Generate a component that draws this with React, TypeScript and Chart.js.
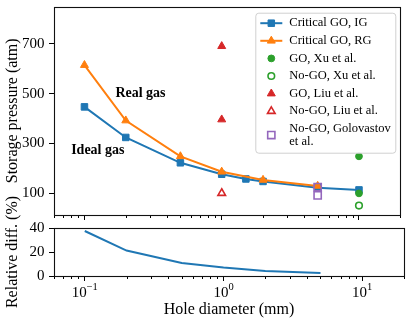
import React, { useEffect, useRef } from 'react';
import { Chart, registerables } from 'chart.js';

Chart.register(...registerables);

const SERIF = "'Liberation Serif', 'Times New Roman', Times, serif";
const BLUE = '#1f77b4';
const ORANGE = '#ff7f0e';
const GREEN = '#2ca02c';
const RED = '#d62728';
const PURPLE = '#9467bd';

// ---------- data ----------
const holeIG = [0.1, 0.2, 0.5, 1, 1.5, 2, 5, 10];
const pressureIG = [447, 324, 222, 176, 157, 147, 122, 113];
const holeRG = [0.1, 0.2, 0.5, 1, 2, 5];
const pressureRG = [615, 392, 248, 186, 153, 129];
const holeGOXu = [10, 10];
const pressureGOXu = [248, 99];
const holeNoGOXu = [10];
const pressureNoGOXu = [50];
const holeGOLiu = [1, 1];
const pressureGOLiu = [691, 396];
const holeNoGOLiu = [1];
const pressureNoGOLiu = [100];
const holeNoGOGolovastov = [5, 5];
const pressureNoGOGolovastov = [124, 91];
const holeDiff = [0.1, 0.2, 0.5, 1, 2, 5];
const relDiff = [37.5, 21.2, 10.9, 7.0, 4.2, 2.5];

const xMajorTicks = [0.1, 1, 10];
const xTickExponents = ['\u22121', '0', '1'];
const xMinorTicks = [0.06, 0.07, 0.08, 0.09, 0.2, 0.3, 0.4, 0.5, 0.6, 0.7, 0.8, 0.9, 2, 3, 4, 5, 6, 7, 8, 9, 20];
const yTicksTop = [100, 300, 500, 700];
const yTicksBottom = [0, 20, 40];
const annotationTexts = ['Real gas', 'Ideal gas'];
const annotationX = [0.168, 0.08];
const annotationY = [501, 270];

const pts = (xs: number[], ys: number[]) => xs.map((x, i) => ({ x, y: ys[i] }));

function markerPath(ctx: CanvasRenderingContext2D, style: string, x: number, y: number, r: number) {
  ctx.beginPath();
  if (style === 'circle') {
    ctx.arc(x, y, r, 0, Math.PI * 2);
  } else if (style === 'rect') {
    const s = r * Math.SQRT1_2;
    ctx.rect(x - s, y - s, 2 * s, 2 * s);
  } else if (style === 'triangle') {
    let a = 0;
    ctx.moveTo(x + Math.sin(a) * r, y - Math.cos(a) * r);
    a += (2 * Math.PI) / 3;
    ctx.lineTo(x + Math.sin(a) * r, y - Math.cos(a) * r);
    a += (2 * Math.PI) / 3;
    ctx.lineTo(x + Math.sin(a) * r, y - Math.cos(a) * r);
  }
  ctx.closePath();
}

const frameTicksPlugin = {
  id: 'frameTicks',
  afterDraw(chart: any) {
    const { ctx, chartArea: a } = chart;
    const xs = chart.scales.x;
    ctx.save();
    ctx.strokeStyle = '#000';
    ctx.lineWidth = 1;
    ctx.beginPath();
    for (const v of xMinorTicks) {
      const px = Math.round(xs.getPixelForValue(v)) + 0.5;
      ctx.moveTo(px, a.bottom);
      ctx.lineTo(px, a.bottom + 3);
    }
    ctx.stroke();
    ctx.lineWidth = 1.1;
    ctx.strokeStyle = '#111';
    ctx.strokeRect(Math.round(a.left) + 0.5, Math.round(a.top) + 0.5, Math.round(a.right - a.left), Math.round(a.bottom - a.top));
    ctx.restore();
  },
};

const xLabelPlugin = {
  id: 'xLabels',
  afterDraw(chart: any) {
    const { ctx, chartArea: a } = chart;
    const xs = chart.scales.x;
    ctx.save();
    ctx.fillStyle = '#000';
    ctx.textBaseline = 'alphabetic';
    ctx.textAlign = 'left';
    xMajorTicks.forEach((v, i) => {
      const px = xs.getPixelForValue(v);
      ctx.font = `15px ${SERIF}`;
      const w1 = ctx.measureText('10').width;
      ctx.font = `10.5px ${SERIF}`;
      const w2 = ctx.measureText(xTickExponents[i]).width;
      const x0 = px - (w1 + w2) / 2;
      const base = a.bottom + 20.7;
      ctx.font = `15px ${SERIF}`;
      ctx.fillText('10', x0, base);
      ctx.font = `10.5px ${SERIF}`;
      ctx.fillText(xTickExponents[i], x0 + w1, base - 7);
    });
    ctx.restore();
  },
};

const annotationLegendPlugin = {
  id: 'annoLegend',
  afterDraw(chart: any) {
    const { ctx, chartArea: a } = chart;
    const xs = chart.scales.x;
    const ys = chart.scales.y;
    ctx.save();
    // annotations
    ctx.fillStyle = '#000';
    ctx.font = `bold 14px ${SERIF}`;
    ctx.textAlign = 'left';
    ctx.textBaseline = 'middle';
    annotationTexts.forEach((t, i) => {
      ctx.fillText(t, xs.getPixelForValue(annotationX[i]), ys.getPixelForValue(annotationY[i]));
    });
    // legend
    const bx = a.right - 145;
    const by = a.top + 6;
    const bw = 140;
    const bh = 140;
    ctx.beginPath();
    (ctx as any).roundRect(bx + 0.5, by + 0.5, bw, bh, 3);
    ctx.fillStyle = 'rgba(255,255,255,0.8)';
    ctx.fill();
    ctx.strokeStyle = '#d0d0d0';
    ctx.lineWidth = 1;
    ctx.stroke();

    const rowH = 17.6;
    const lineGap = 12.5;
    let cy = by + 10.5;
    const hx0 = bx + 5;
    const hx1 = bx + 27;
    const hxc = (hx0 + hx1) / 2;
    const tx = bx + 34;
    chart.data.datasets.forEach((ds: any) => {
      const lines = String(ds.label).split('\n');
      const center = cy + ((lines.length - 1) * lineGap) / 2;
      if (ds.showLine) {
        ctx.beginPath();
        ctx.moveTo(hx0, center);
        ctx.lineTo(hx1, center);
        ctx.strokeStyle = ds.borderColor;
        ctx.lineWidth = ds.borderWidth;
        ctx.stroke();
      }
      markerPath(ctx, ds.pointStyle, hxc, center, ds.pointRadius);
      if (ds.backgroundColor && ds.backgroundColor !== 'transparent') {
        ctx.fillStyle = ds.backgroundColor;
        ctx.fill();
      }
      ctx.strokeStyle = ds.pointBorderColor || ds.borderColor;
      ctx.lineWidth = ds.pointBorderWidth;
      ctx.stroke();
      ctx.fillStyle = '#000';
      ctx.font = `12.5px ${SERIF}`;
      ctx.textAlign = 'left';
      ctx.textBaseline = 'middle';
      lines.forEach((ln, k) => ctx.fillText(ln, tx, cy + k * lineGap));
      cy += rowH + (lines.length - 1) * lineGap + (lines.length > 1 ? 0.5 : 0);
    });
    ctx.restore();
  },
};

function xScale(height: number, title?: string) {
  return {
    type: 'logarithmic',
    min: 0.06,
    max: 20,
    bounds: 'data',
    afterBuildTicks: (s: any) => {
      s.ticks = xMajorTicks.map((v) => ({ value: v }));
    },
    afterFit: (s: any) => {
      s.height = height;
      s.paddingLeft = 0;
      s.paddingRight = 0;
    },
    ticks: { display: false },
    grid: { display: true, drawOnChartArea: false, drawTicks: true, tickLength: 5, tickColor: '#000', tickWidth: 1 },
    border: { display: false },
    title: title
      ? { display: true, text: title, color: '#000', font: { family: SERIF, size: 16 }, padding: { top: 0, bottom: 2 } }
      : { display: false },
  };
}

function yScale(min: number, max: number, ticks: number[], title: string) {
  return {
    type: 'linear',
    min,
    max,
    bounds: 'data',
    afterBuildTicks: (s: any) => {
      s.ticks = ticks.map((v) => ({ value: v }));
    },
    afterFit: (s: any) => {
      s.width = 54;
      s.paddingTop = 0;
      s.paddingBottom = 0;
    },
    ticks: { display: true, autoSkip: false, color: '#000', padding: 4.5, font: { family: SERIF, size: 15 } },
    grid: { display: true, drawOnChartArea: false, drawTicks: true, tickLength: 5, tickColor: '#000', tickWidth: 1 },
    border: { display: false },
    title: { display: true, text: title, color: '#000', font: { family: SERIF, size: 16 }, padding: { top: 3, bottom: 0 } },
  };
}

export default function App() {
  const topRef = useRef<HTMLCanvasElement>(null);
  const botRef = useRef<HTMLCanvasElement>(null);

  useEffect(() => {
    const top = new Chart(topRef.current as HTMLCanvasElement, {
      type: 'scatter',
      data: {
        datasets: [
          {
            label: 'Critical GO, IG', data: pts(holeIG, pressureIG), showLine: true,
            borderColor: BLUE, backgroundColor: BLUE, borderWidth: 2, tension: 0,
            pointStyle: 'rect', pointRadius: 4.6, pointBorderWidth: 1, order: 7,
          },
          {
            label: 'Critical GO, RG', data: pts(holeRG, pressureRG), showLine: true,
            borderColor: ORANGE, backgroundColor: ORANGE, borderWidth: 2, tension: 0,
            pointStyle: 'triangle', pointRadius: 4.6, pointBorderWidth: 1, order: 6,
          },
          {
            label: 'GO, Xu et al.', data: pts(holeGOXu, pressureGOXu), showLine: false,
            borderColor: GREEN, backgroundColor: GREEN, borderWidth: 1,
            pointStyle: 'circle', pointRadius: 3.4, pointBorderWidth: 1, order: 5,
          },
          {
            label: 'No-GO, Xu et al.', data: pts(holeNoGOXu, pressureNoGOXu), showLine: false,
            borderColor: GREEN, backgroundColor: '#ffffff', borderWidth: 1.5,
            pointStyle: 'circle', pointRadius: 3.3, pointBorderWidth: 1.6, order: 4,
          },
          {
            label: 'GO, Liu et al.', data: pts(holeGOLiu, pressureGOLiu), showLine: false,
            borderColor: RED, backgroundColor: RED, borderWidth: 1,
            pointStyle: 'triangle', pointRadius: 4.6, pointBorderWidth: 1, order: 3,
          },
          {
            label: 'No-GO, Liu et al.', data: pts(holeNoGOLiu, pressureNoGOLiu), showLine: false,
            borderColor: RED, backgroundColor: '#ffffff', borderWidth: 1.5,
            pointStyle: 'triangle', pointRadius: 4.4, pointBorderWidth: 1.6, order: 2,
          },
          {
            label: 'No-GO, Golovastov\net al.', data: pts(holeNoGOGolovastov, pressureNoGOGolovastov), showLine: false,
            borderColor: PURPLE, backgroundColor: 'transparent', borderWidth: 1.5,
            pointStyle: 'rect', pointRadius: 5.1, pointBorderWidth: 1.6, order: 1,
          },
        ],
      },
      options: {
        responsive: false,
        animation: false,
        devicePixelRatio: 1,
        events: [],
        layout: { padding: { top: 2, right: 3, bottom: 96, left: 0 } },
        plugins: { legend: { display: false }, tooltip: { enabled: false } },
        scales: {
          x: xScale(10) as any,
          y: yScale(12, 850, yTicksTop, 'Storage pressure (atm)') as any,
        },
      },
      plugins: [frameTicksPlugin, annotationLegendPlugin],
    } as any);

    const bottom = new Chart(botRef.current as HTMLCanvasElement, {
      type: 'scatter',
      data: {
        datasets: [
          {
            label: 'Relative diff.', data: pts(holeDiff, relDiff), showLine: true,
            borderColor: BLUE, backgroundColor: BLUE, borderWidth: 2, tension: 0, pointRadius: 0,
          },
        ],
      },
      options: {
        responsive: false,
        animation: false,
        devicePixelRatio: 1,
        events: [],
        layout: { padding: { top: 228, right: 3, bottom: 0, left: 0 } },
        plugins: { legend: { display: false }, tooltip: { enabled: false } },
        scales: {
          x: xScale(45, 'Hole diameter (mm)') as any,
          y: yScale(0, 40, yTicksBottom, 'Relative diff. (%)') as any,
        },
      },
      plugins: [frameTicksPlugin, xLabelPlugin],
    } as any);

    return () => {
      top.destroy();
      bottom.destroy();
    };
  }, []);

  return (
    <div style={{ position: 'fixed', left: 0, top: 0, width: 407, height: 321, background: '#ffffff' }}>
      <canvas ref={topRef} width={407} height={321} style={{ position: 'absolute', left: 0, top: 0, width: 407, height: 321 }} />
      <canvas ref={botRef} width={407} height={321} style={{ position: 'absolute', left: 0, top: 0, width: 407, height: 321 }} />
    </div>
  );
}
